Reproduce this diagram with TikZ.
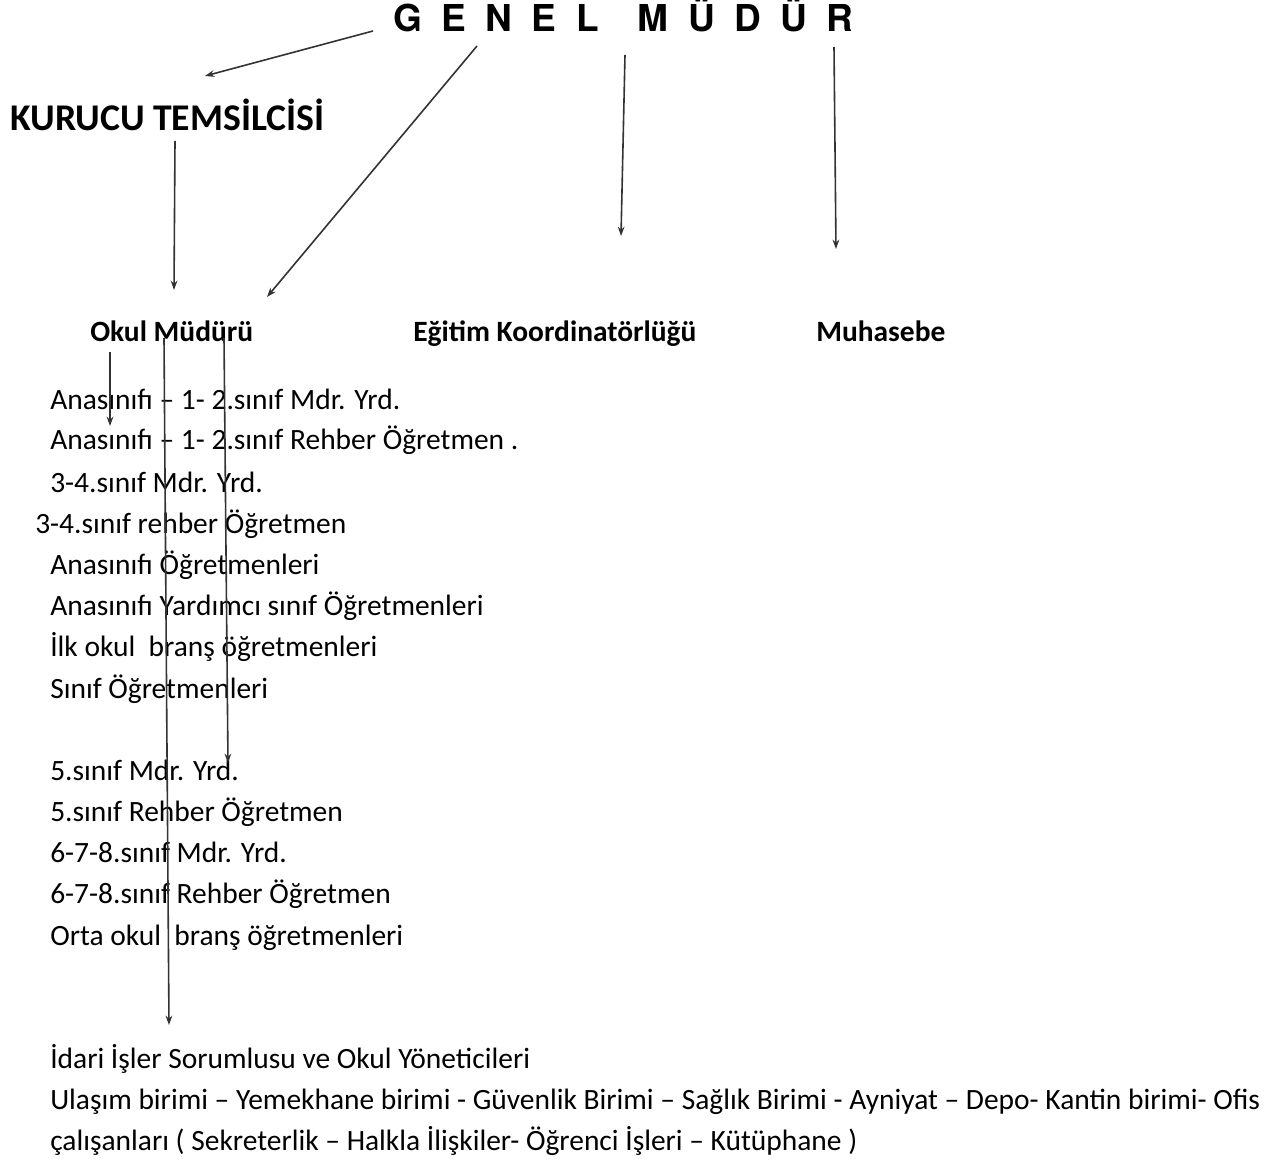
\documentclass[tikz,border=0pt]{standalone}
\usepackage{fontspec}
\setmainfont{Carlito}
\newfontfamily\titlefont{TeX Gyre Heros}
\usetikzlibrary{arrows.meta}

\begin{document}
\begin{tikzpicture}[x=0.75pt,y=-0.75pt,
    txt/.style={anchor=base west,inner sep=0pt,font=\fontsize{22.1}{26}\selectfont},
    head/.style={txt,font=\fontsize{22.1}{26}\selectfont\bfseries},
    arr/.style={-{Stealth[length=7pt,width=5pt]},draw=black!80,line width=1.2pt}]
  \useasboundingbox (0,0) rectangle (1274,1162);
  \node[txt,font=\titlefont\bfseries\fontsize{27.8}{32}\selectfont] (genel) at (393,32)
    {\spaceskip=14.6pt G E N E L \ M Ü D Ü R};
  \node[head,font=\fontsize{28.3}{34}\selectfont\bfseries] (kurucu) at (10,131) {KURUCU TEMSİLCİSİ};
  \node[head] (okul) at (90,342) {Okul Müdürü};
  \node[head] (egitim) at (413,342) {Eğitim Koordinatörlüğü};
  \node[head] (muhasebe) at (816,342) {Muhasebe};
  \foreach \py/\px/\t [count=\i] in {
      409/50/{Anasınıfı – 1- 2.sınıf Mdr. Yrd.},
      450/50/{Anasınıfı – 1- 2.sınıf Rehber Öğretmen .},
      492/50/{3-4.sınıf Mdr. Yrd.},
      533/35/{3-4.sınıf rehber Öğretmen},
      574/50/{Anasınıfı Öğretmenleri},
      615/50/{Anasınıfı Yardımcı sınıf Öğretmenleri},
      656/50/{İlk okul \ branş öğretmenleri},
      698/50/{Sınıf Öğretmenleri},
      780/50/{5.sınıf Mdr. Yrd.},
      821/50/{5.sınıf Rehber Öğretmen},
      862/50/{6-7-8.sınıf Mdr. Yrd.},
      903/50/{6-7-8.sınıf Rehber Öğretmen},
      945/50/{Orta okul \ branş öğretmenleri},
      1068/50/{İdari İşler Sorumlusu ve Okul Yöneticileri},
      1109/50/{Ulaşım birimi – Yemekhane birimi - Güvenlik Birimi – Sağlık Birimi - Ayniyat – Depo- Kantin birimi- Ofis},
      1150/50/{çalışanları ( Sekreterlik – Halkla İlişkiler- Öğrenci İşleri – Kütüphane )}}
    \node[txt] (l\i) at (\px,\py) {\t};
  \foreach \ax/\ay/\bx/\by [count=\i] in {
      373/31/205/76, 477/46/267/297, 625/55/621/236, 834/47/836/249,
      175/141/174/290, 110/352/110/426, 164/338/169/1025, 224/338/228/763}
  {
    \coordinate (s\i) at (\ax,\ay);
    \coordinate (e\i) at (\bx,\by);
    \draw[arr] (s\i) -- (e\i);
  }
\end{tikzpicture}
\end{document}
